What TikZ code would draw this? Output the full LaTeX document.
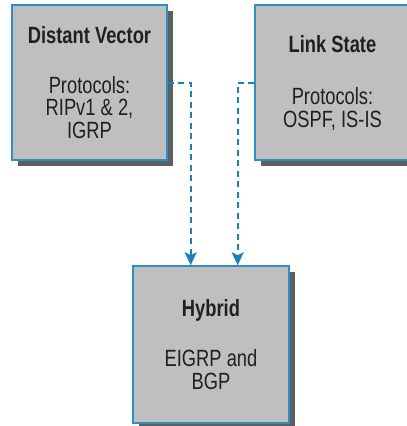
\documentclass[tikz,border=0pt]{standalone}
\usepackage{fontspec}
\setmainfont{Liberation Sans}[FakeStretch=0.78]
\usetikzlibrary{arrows.meta,shadows}
\definecolor{boxfill}{HTML}{BFBFBF}
\definecolor{boxline}{HTML}{2E8FC6}
\definecolor{shadowc}{HTML}{5E5E5E}
\definecolor{connc}{HTML}{1B80B8}
\definecolor{txt}{HTML}{231F20}
\begin{document}
\begin{tikzpicture}[x=1pt,y=-1pt,
  box/.style={draw=boxline, line width=1.5pt, fill=boxfill,
    minimum width=155pt, minimum height=155pt, inner sep=0pt,
    align=center, text=txt, font=\fontsize{23.5}{22.5}\selectfont,
    drop shadow={shadow xshift=6pt, shadow yshift=-6pt, fill=shadowc, opacity=1}},
  conn/.style={draw=connc, line width=2pt, dash pattern=on 6pt off 4.5pt,
    -{Stealth[length=13pt,width=12pt,inset=3pt]}}]
\useasboundingbox (0,0) rectangle (407,426);
\node[box] (L) at (89.5,82.5) {\textbf{Distant Vector}\\[27.5pt]Protocols:\\RIPv1 \& 2,\\IGRP};
\node[box] (R) at (332.5,82.5) {\textbf{Link State}\\[30pt]Protocols:\\OSPF, IS-IS};
\node[box, minimum width=156pt, minimum height=157pt] (H) at (211,344.5) {\textbf{Hybrid}\\[27.5pt]EIGRP and\\BGP};
\draw[conn] (L.east) -| ([xshift=-20.3pt]H.north);
\draw[conn] (R.west) -| ([xshift=26.7pt]H.north);
\end{tikzpicture}
\end{document}
